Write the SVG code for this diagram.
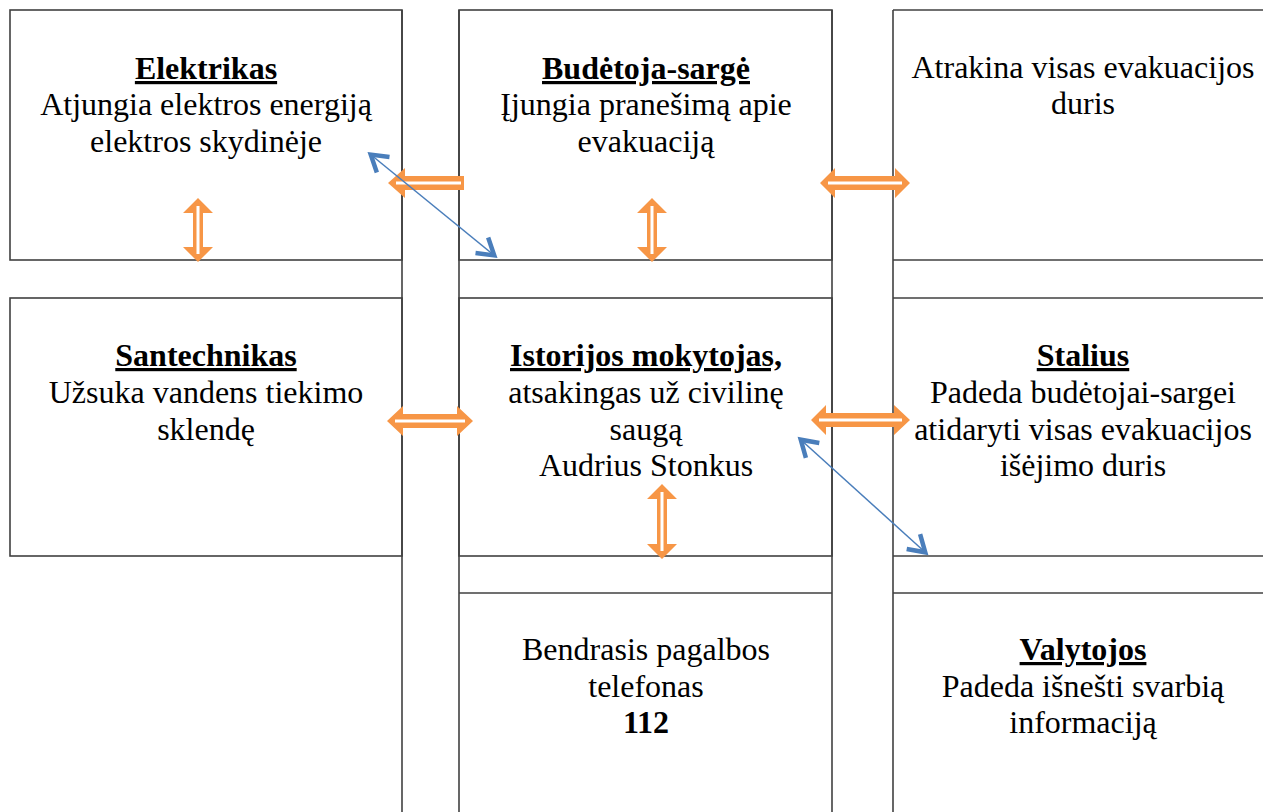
<svg xmlns="http://www.w3.org/2000/svg" width="1263" height="812" viewBox="0 0 1263 812">
<style>
.ln{stroke:#404040;stroke-width:1.6;fill:none}
.t{font-family:"Liberation Serif","Times New Roman",serif;font-size:32px;fill:#000;text-anchor:middle}
.b{font-weight:bold;text-decoration:underline}
.bn{font-weight:bold}
.oa{fill:#F79646}
.ow{fill:#fff}
.bl{stroke:#4A7EBB;stroke-width:1.5;fill:none}
</style>
<defs>
<marker id="vh" markerUnits="userSpaceOnUse" markerWidth="34" markerHeight="34" viewBox="-24 -17 34 34" refX="0" refY="0" orient="auto-start-reverse">
<path d="M-17,-10 L-1,0 L-17,10" fill="none" stroke="#4A7EBB" stroke-width="4.5" stroke-linejoin="miter"/>
</marker>
</defs>
<rect width="1263" height="812" fill="#fff"/>
<g id="grid">
<line class="ln" x1="402" y1="10" x2="402" y2="812"/>
<line class="ln" x1="459" y1="10" x2="459" y2="812"/>
<line class="ln" x1="832" y1="10" x2="832" y2="812"/>
<line class="ln" x1="893" y1="10" x2="893" y2="812"/>
</g>
<g id="elektrikas">
<rect class="ln" x="10" y="10" width="392" height="250"/>
<text class="t b" x="206" y="79">Elektrikas</text>
<text class="t" x="206" y="115">Atjungia elektros energiją</text>
<text class="t" x="206" y="152">elektros skydinėje</text>
</g>
<g id="budetoja">
<rect class="ln" x="459" y="10" width="373" height="250"/>
<text class="t b" x="646" y="79">Budėtoja-sargė</text>
<text class="t" x="646" y="115">Įjungia pranešimą apie</text>
<text class="t" x="646" y="152">evakuaciją</text>
</g>
<g id="atrakina">
<line class="ln" x1="893" y1="10" x2="1263" y2="10"/>
<line class="ln" x1="893" y1="260" x2="1263" y2="260"/>
<text class="t" x="1083" y="78">Atrakina visas evakuacijos</text>
<text class="t" x="1083" y="114">duris</text>
</g>
<g id="santechnikas">
<rect class="ln" x="10" y="298" width="392" height="258"/>
<text class="t b" x="206" y="366">Santechnikas</text>
<text class="t" x="206" y="403">Užsuka vandens tiekimo</text>
<text class="t" x="206" y="440">sklendę</text>
</g>
<g id="istorijos">
<rect class="ln" x="459" y="298" width="373" height="258"/>
<text class="t b" x="646" y="366">Istorijos mokytojas,</text>
<text class="t" x="646" y="403">atsakingas už civilinę</text>
<text class="t" x="646" y="440">saugą</text>
<text class="t" x="646" y="476">Audrius Stonkus</text>
</g>
<g id="stalius">
<line class="ln" x1="893" y1="298" x2="1263" y2="298"/>
<line class="ln" x1="893" y1="556" x2="1263" y2="556"/>
<text class="t b" x="1083" y="366">Stalius</text>
<text class="t" x="1083" y="403">Padeda budėtojai-sargei</text>
<text class="t" x="1083" y="440">atidaryti visas evakuacijos</text>
<text class="t" x="1083" y="476">išėjimo duris</text>
</g>
<g id="bendrasis">
<line class="ln" x1="459" y1="593" x2="832" y2="593"/>
<text class="t" x="646" y="660">Bendrasis pagalbos</text>
<text class="t" x="646" y="697">telefonas</text>
<text class="t bn" x="646" y="733">112</text>
</g>
<g id="valytojos">
<line class="ln" x1="893" y1="593" x2="1263" y2="593"/>
<text class="t b" x="1083" y="660">Valytojos</text>
<text class="t" x="1083" y="697">Padeda išnešti svarbią</text>
<text class="t" x="1083" y="733">informaciją</text>
</g>
<g id="connectors">
<polygon class="oa" points="388,183 405,168 405,176 464,176 464,190 405,190 405,198"/>
<rect class="ow" x="396" y="181.5" width="65" height="3"/>
<polygon class="oa" points="820,183 835,168 835,176 895,176 895,168 910,183 895,198 895,190 835,190 835,198"/>
<rect class="ow" x="828" y="181.5" width="74" height="3"/>
<polygon class="oa" points="387,421 403,406 403,414 457,414 457,406 473,421 457,436 457,428 403,428 403,436"/>
<rect class="ow" x="395" y="419.5" width="70" height="3"/>
<polygon class="oa" points="811,420 826,405 826,413 894,413 894,405 910,420 894,435 894,427 826,427 826,435"/>
<rect class="ow" x="819" y="418.5" width="83" height="3"/>
<polygon class="oa" points="198,198 213,213 203,213 203,247 213,247 198,262 183,247 193,247 193,213 183,213"/>
<rect class="ow" x="196.5" y="206" width="3" height="48"/>
<polygon class="oa" points="652,198 667,213 657,213 657,247 667,247 652,262 637,247 647,247 647,213 637,213"/>
<rect class="ow" x="650.5" y="206" width="3" height="48"/>
<polygon class="oa" points="662,484 677,499 667,499 667,544 677,544 662,559 647,544 657,544 657,499 647,499"/>
<rect class="ow" x="660.5" y="492" width="3" height="59"/>
<line class="bl" x1="370" y1="154" x2="495" y2="256" marker-start="url(#vh)" marker-end="url(#vh)"/>
<line class="bl" x1="800" y1="439" x2="926" y2="553" marker-start="url(#vh)" marker-end="url(#vh)"/>
</g>
</svg>
